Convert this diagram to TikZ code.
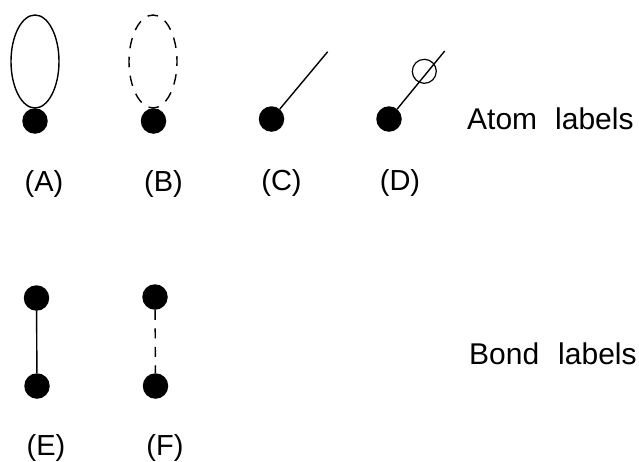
\documentclass[tikz,border=0pt]{standalone}
\usepackage{fontspec}
\setmainfont{Liberation Sans}
\usetikzlibrary{shapes.geometric}
\tikzset{
  atom/.style={circle,fill=black,draw=none,minimum size=25.5pt,inner sep=0pt},
  loopring/.style={ellipse,draw=black,line width=1.4pt,minimum width=48pt,minimum height=93pt,inner sep=0pt},
  dashring/.style={loopring,dash pattern=on 10.5pt off 8.5pt,dash phase=5.25pt},
  bondline/.style={draw=black,line width=1.4pt},
  dashline/.style={bondline,dash pattern=on 10pt off 8.5pt},
  smallring/.style={circle,draw=black,line width=1.2pt,minimum size=24pt,inner sep=0pt},
  lbl/.style={anchor=base,inner sep=0pt,font=\fontsize{29}{32}\selectfont},
  sidelbl/.style={anchor=base west,inner sep=0pt,font=\fontsize{30}{33}\selectfont}
}
\begin{document}
\begin{tikzpicture}[x=1pt,y=-1pt]
\useasboundingbox (0,0) rectangle (639,461);
\node[atom] (a) at (35,121) {};
\node[loopring] (la) at (35,61.5) {};
\node[atom] (b) at (153.5,121) {};
\node[dashring] (lb) at (153,61.5) {};
\node[atom] (c) at (271.5,119) {};
\coordinate (cend) at (327.7,51.7);
\draw[bondline] (c) -- (cend);
\node[atom] (d) at (389,119) {};
\coordinate (dend) at (444.7,51);
\draw[bondline] (d) -- (dend);
\node[smallring] (dr) at (424.3,71.3) {};
\node[atom] (e1) at (36.5,298) {};
\node[atom] (e2) at (37,386) {};
\draw[bondline] (e1) -- (e2);
\node[atom] (f1) at (155,297) {};
\node[atom] (f2) at (155.5,386) {};
\draw[dashline] (f1) -- (f2);
\node[lbl] (ta) at (44,191) {(A)};
\node[lbl] (tb) at (163.5,191) {(B)};
\node[lbl] (tc) at (281.5,190) {(C)};
\node[lbl] (td) at (400,190) {(D)};
\node[lbl] (te) at (46,455) {(E)};
\node[lbl] (tf) at (165,455) {(F)};
\node[sidelbl] (atomlab) at (467,129) {Atom\hspace{18pt}labels};
\node[sidelbl] (bondlab) at (469,364) {Bond\hspace{19pt}labels};
\end{tikzpicture}
\end{document}
